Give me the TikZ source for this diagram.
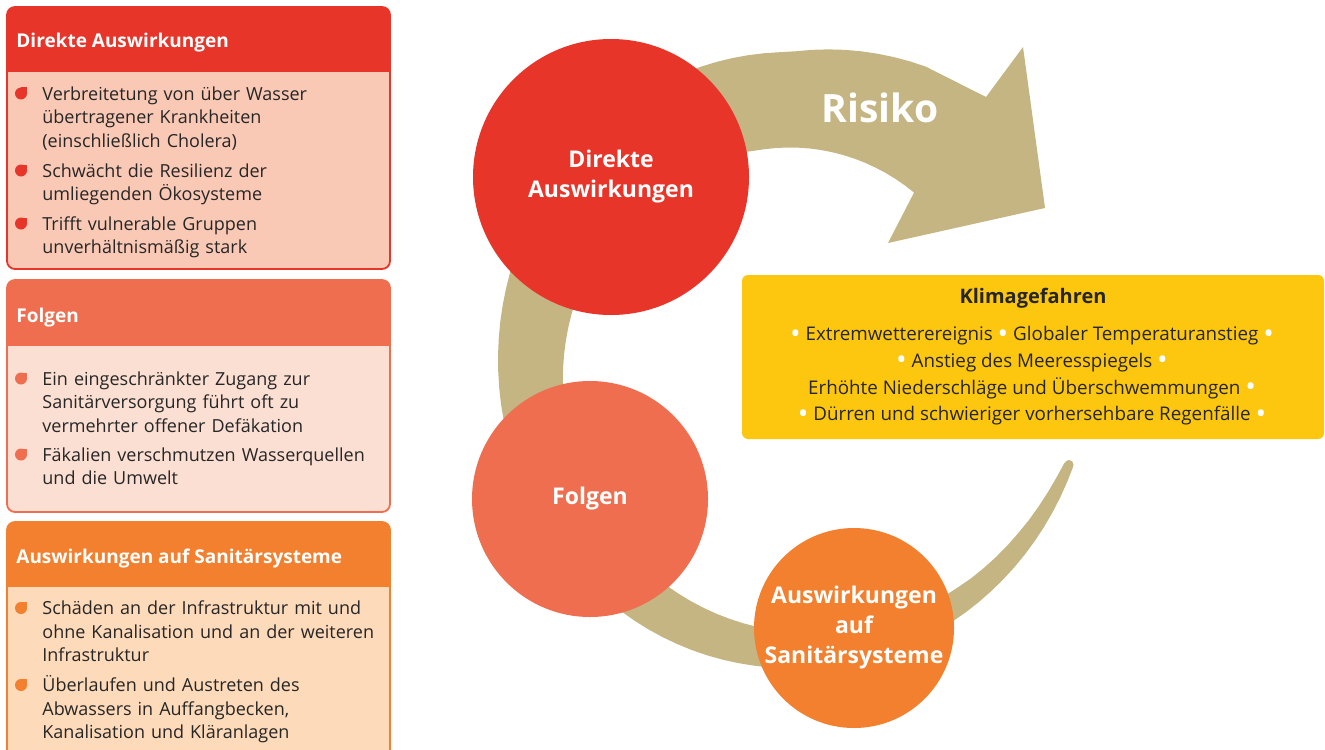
\documentclass[tikz,border=0pt]{standalone}
\usepackage{fontspec}
\usepackage{graphicx}
\setmainfont{Open Sans}

\definecolor{riskred}{HTML}{E8352A}
\definecolor{riskredlight}{HTML}{F9C9B5}
\definecolor{folgencol}{HTML}{EF6E4F}
\definecolor{folgenlight}{HTML}{FBDFD2}
\definecolor{sanicol}{HTML}{F2802E}
\definecolor{sanilight}{HTML}{FDDABA}
\definecolor{risktan}{HTML}{C5B583}
\definecolor{klimayellow}{HTML}{FEC70F}
\definecolor{textdark}{HTML}{262626}

\newcommand{\leafmark}[2]{%
    \fill[#2] (#1) circle[radius=6];
    \fill[#2] (#1) rectangle ++(6,-6);
}
\newcommand{\wdot}{\textcolor{white}{\raisebox{-0.12em}{\scalebox{1.5}{•}}}}

\begin{document}
\begin{tikzpicture}[
            x=0.5pt, y=-0.5pt,
            every node/.style={inner sep=0pt, text=textdark},
            boxhead/.style={anchor=base west, text=white, font=\fontsize{9.5}{12}\selectfont\bfseries},
            boxitem/.style={anchor=base west, text width=200pt, align=left, font=\fontsize{9}{11.75}\selectfont},
            bubble/.style={circle, text=white, align=center, font=\fontsize{11.5}{15}\selectfont\bfseries}
        ]
            \useasboundingbox (0,0) rectangle (1325,749);

            \fill[riskredlight, rounded corners=4pt] (7,7) rectangle (390,269);
            \begin{scope}
                \clip[rounded corners=4pt] (7,7) rectangle (390,269);
                \fill[riskred] (7,7) rectangle (390,72);
            \end{scope}
            \draw[riskred, line width=0.9pt, rounded corners=4pt] (7,7) rectangle (390,269);
            \node[boxhead] (hdirekt) at (16,48) {Direkte Auswirkungen};
            \leafmark{21,93.5}{riskred}
            \node[boxitem] (direkt1) at (42,100) {Verbreitetung von über Wasser\\übertragener Krankheiten\\(einschließlich Cholera)};
            \leafmark{21,170.5}{riskred}
            \node[boxitem] (direkt2) at (42,177) {Schwächt die Resilienz der\\umliegenden Ökosysteme};
            \leafmark{21,223.5}{riskred}
            \node[boxitem] (direkt3) at (42,230) {Trifft vulnerable Gruppen\\unverhältnismäßig stark};

            \fill[folgenlight, rounded corners=4pt] (7,280) rectangle (390,512);
            \begin{scope}
                \clip[rounded corners=4pt] (7,280) rectangle (390,512);
                \fill[folgencol] (7,280) rectangle (390,346);
            \end{scope}
            \draw[folgencol, line width=0.9pt, rounded corners=4pt] (7,280) rectangle (390,512);
            \node[boxhead] (hfolgen) at (16,322) {Folgen};
            \leafmark{21,378.5}{folgencol}
            \node[boxitem] (folgen1) at (42,385) {Ein eingeschränkter Zugang zur\\Sanitärversorgung führt oft zu\\vermehrter offener Defäkation};
            \leafmark{21,454.5}{folgencol}
            \node[boxitem] (folgen2) at (42,461) {Fäkalien verschmutzen Wasserquellen\\und die Umwelt};

            \fill[sanilight, rounded corners=4pt] (7,522) rectangle (390,770);
            \begin{scope}
                \clip[rounded corners=4pt] (7,522) rectangle (390,770);
                \fill[sanicol] (7,522) rectangle (390,587);
            \end{scope}
            \draw[sanicol, line width=0.9pt, rounded corners=4pt] (7,522) rectangle (390,770);
            \node[boxhead] (hsani) at (16,563) {Auswirkungen auf Sanitärsysteme};
            \leafmark{21,608}{sanicol}
            \node[boxitem] (sani1) at (42,614.5) {Schäden an der Infrastruktur mit und\\ohne Kanalisation und an der weiteren\\Infrastruktur};
            \leafmark{21,685}{sanicol}
            \node[boxitem] (sani2) at (42,691.5) {Überlaufen und Austreten des\\Abwassers in Auffangbecken,\\Kanalisation und Kläranlagen};

            \fill[risktan]
                plot[domain=19.5:296, samples=90, variable=\t]
                    ({790+292*(1+0.03*max(0,(96-\t)/77)+0.06*max(0,(\t-270)/26))*cos(\t)},
                     {360+308*(1+0.03*max(0,(96-\t)/77)+0.06*max(0,(\t-270)/26))*sin(\t)})
                -- (986,97) -- (1023,47) -- (1045,208) -- (888,243)
                -- plot[domain=308:19.5, samples=90, variable=\t]
                    ({790+292*max(0.69,1-0.31*((\t-19)/241)^0.8)*cos(\t)},
                     {360+308*max(0.69,1-0.31*((\t-19)/241)^0.8)*sin(\t)})
                -- cycle;
            \fill[risktan] (1069,464.5) circle[radius=4.5];
            \node[text=white, font=\fontsize{19.5}{22}\selectfont\bfseries] (risiko) at (880,108) {Risiko};

            \node[bubble, fill=riskred, minimum size=138pt] (direkt) at (611,177) {Direkte\\Auswirkungen};
            \node[bubble, fill=folgencol, minimum size=118pt] (folgen) at (590,499) {Folgen};
            \node[bubble, fill=sanicol, minimum size=100pt] (sani) at (854,628) {Auswirkungen\\auf\\Sanitärsysteme};

            \fill[klimayellow, rounded corners=3pt] (742,275) rectangle (1324,439);
            \node[font=\fontsize{10}{12}\selectfont\bfseries] (klimatitle) at (1033,298) {Klimagefahren};
            \node[align=center, font=\fontsize{9.4}{13.3}\selectfont] (klimalist) at (1032,376) {%
                \wdot\ Extremwetterereignis\ \wdot\ Globaler Temperaturanstieg\ \wdot\\
                \wdot\ Anstieg des Meeresspiegels\ \wdot\\
                Erhöhte Niederschläge und Überschwemmungen\ \wdot\\
                \wdot\ Dürren und schwieriger vorhersehbare Regenfälle\ \wdot};
        \end{tikzpicture}
\end{document}
